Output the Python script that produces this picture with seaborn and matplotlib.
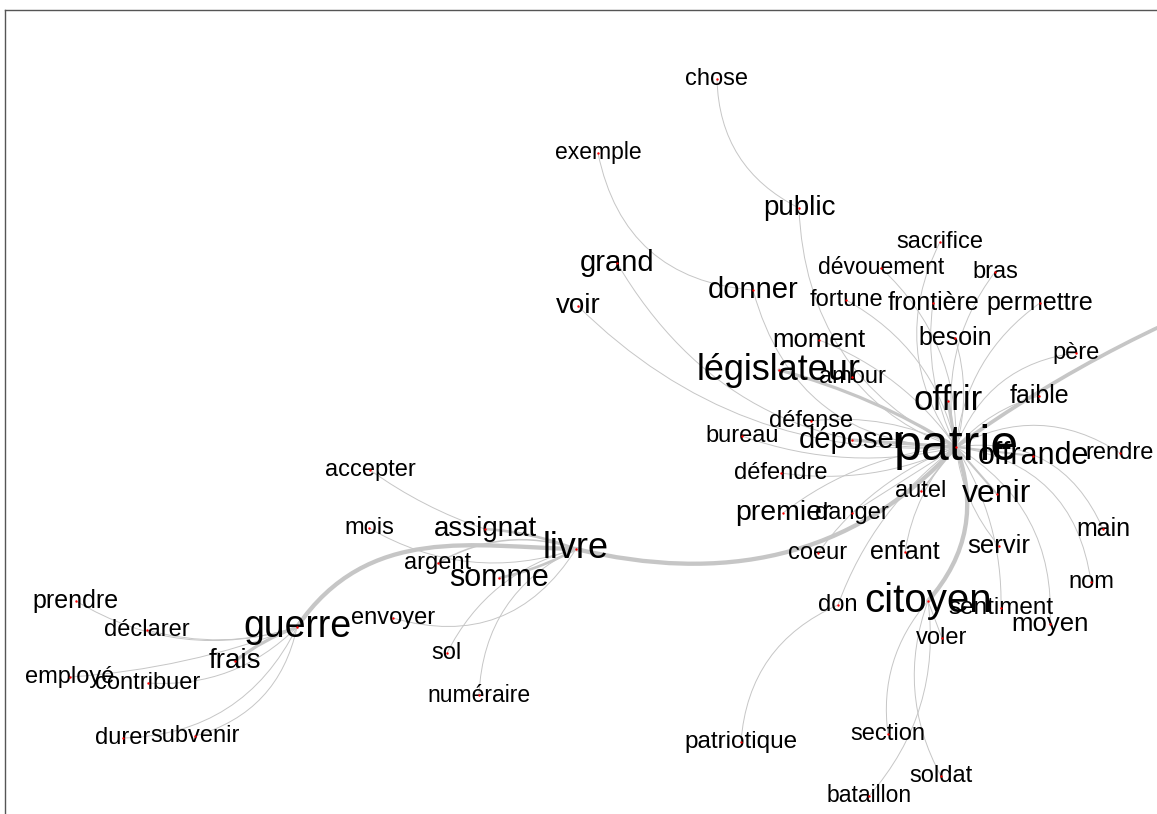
import numpy as np
import pandas as pd
import matplotlib
matplotlib.use("Agg")
import matplotlib.pyplot as plt
from matplotlib.path import Path
from matplotlib.patches import PathPatch
import seaborn as sns

# words of the similarity graph, position on the layout and label size
words = ["patrie", "citoyen", "législateur", "guerre", "livre", "offrir", "venir",
         "offrande", "déposer", "somme", "donner", "grand", "public", "voir", "premier",
         "assignat", "frais", "moment", "moyen", "servir", "sentiment", "patriotique",
         "autel", "chose", "exemple", "sacrifice", "dévouement", "bras", "fortune",
         "frontière", "permettre", "besoin", "père", "amour", "faible", "défense",
         "bureau", "rendre", "défendre", "danger", "main", "coeur", "enfant", "nom",
         "don", "voler", "section", "soldat", "bataillon", "accepter", "mois", "argent",
         "envoyer", "prendre", "déclarer", "sol", "employé", "contribuer", "numéraire",
         "durer", "subvenir", ""]
word_x = [956, 928, 779, 297, 576, 948, 997, 1033, 852, 499, 753, 617, 799, 578, 783,
          485, 235, 819, 1050, 999, 1001, 741, 921, 717, 598, 940, 881, 995, 846,
          933, 1040, 955, 1076, 852, 1039, 811, 742, 1120, 781, 852, 1103, 818, 905,
          1091, 838, 942, 888, 941, 869, 370, 369, 438, 393, 76, 147, 447, 70, 148,
          479, 123, 195, 1300]
word_y = [447, 601, 370, 627, 549, 401, 494, 456, 440, 578, 290, 263, 208, 306, 513,
          529, 661, 340, 624, 546, 608, 742, 491, 79, 153, 242, 268, 272, 300, 303,
          303, 338, 353, 377, 396, 421, 436, 453, 473, 513, 529, 553, 552, 582, 605,
          638, 734, 776, 796, 470, 528, 563, 618, 601, 630, 653, 677, 683, 695, 738,
          736, 270]
word_size = [36, 29, 26, 27, 26, 25, 23, 22, 21, 22, 21, 21, 20, 20, 20.5,
             20, 20, 18.5, 18.5, 18.5, 17.5, 17.5, 17, 17, 16.5, 17, 16.5, 17, 17,
             18, 18, 18, 17, 17, 18, 17, 17, 17, 17, 17, 18, 17, 18,
             17, 17, 17, 17, 17, 16.5, 17, 17, 17, 17, 18, 17, 17, 17, 17,
             16.5, 17, 17, 17]

# co-occurrence edges of the tree: (source, target, weight)
edges_patrie = [("patrie", "livre", 4), ("patrie", "citoyen", 4), ("patrie", "", 3.5),
                ("patrie", "législateur", 3), ("patrie", "déposer", 3),
                ("patrie", "offrir", 3), ("patrie", "venir", 2), ("patrie", "offrande", 2),
                ("patrie", "autel", 1.5), ("patrie", "main", 1), ("patrie", "nom", 1),
                ("patrie", "rendre", 1), ("patrie", "faible", 1), ("patrie", "père", 1),
                ("patrie", "permettre", 1), ("patrie", "bras", 1),
                ("patrie", "sacrifice", 1), ("patrie", "frontière", 1),
                ("patrie", "besoin", 1), ("patrie", "dévouement", 1),
                ("patrie", "fortune", 1), ("patrie", "public", 1), ("patrie", "moment", 1),
                ("patrie", "donner", 1), ("patrie", "grand", 1), ("patrie", "voir", 1),
                ("patrie", "amour", 1), ("patrie", "défense", 1), ("patrie", "bureau", 1),
                ("patrie", "défendre", 1), ("patrie", "premier", 1),
                ("patrie", "danger", 1), ("patrie", "coeur", 1), ("patrie", "enfant", 1),
                ("patrie", "don", 1), ("patrie", "servir", 1), ("patrie", "sentiment", 1),
                ("patrie", "moyen", 1)]
edges_citoyen = [("citoyen", "voler", 1), ("citoyen", "section", 1),
                 ("citoyen", "soldat", 1), ("citoyen", "bataillon", 1),
                 ("don", "patriotique", 1), ("public", "chose", 1),
                 ("donner", "exemple", 1)]
edges_livre = [("livre", "guerre", 4), ("livre", "assignat", 2.5), ("livre", "somme", 2.5),
               ("livre", "argent", 1.5), ("livre", "mois", 1), ("livre", "envoyer", 1),
               ("livre", "sol", 1), ("livre", "numéraire", 1), ("assignat", "accepter", 1)]
edges_guerre = [("guerre", "frais", 3), ("guerre", "prendre", 1), ("guerre", "déclarer", 1),
                ("guerre", "employé", 1), ("guerre", "contribuer", 1),
                ("guerre", "durer", 1), ("guerre", "subvenir", 1)]

# drawing style: bend of each edge, keyed by its target word
# (two cubic control offsets as fraction of edge length, + = clockwise side)
edge_bend = {
    "livre": (-0.21, -0.18), "citoyen": (-0.2, -0.2), "": (-0.05, -0.05),
    "législateur": (0.05, 0.05), "déposer": (0, 0), "offrir": (0, 0),
    "venir": (0, 0), "offrande": (0, 0), "autel": (0, 0),
    "main": (-0.25, -0.25), "nom": (-0.25, -0.25), "rendre": (-0.2, -0.2),
    "faible": (-0.1, -0.1), "père": (-0.2, -0.2), "permettre": (-0.15, -0.15),
    "bras": (-0.15, -0.15), "sacrifice": (-0.2, -0.2), "frontière": (-0.1, -0.1),
    "besoin": (0.1, 0.1), "dévouement": (0.15, 0.15), "fortune": (0.15, 0.15),
    "public": (-0.2, -0.2), "moment": (0.1, 0.1), "donner": (-0.25, -0.25),
    "grand": (-0.2, -0.2), "voir": (-0.15, -0.15), "amour": (-0.1, -0.1),
    "défense": (0.1, 0.1), "bureau": (-0.1, -0.1), "défendre": (-0.1, -0.1),
    "premier": (0.1, 0.1), "danger": (0, 0), "coeur": (0.1, 0.1),
    "enfant": (0.1, 0.1), "don": (0.1, 0.1), "servir": (0.1, 0.1),
    "sentiment": (-0.1, -0.1), "moyen": (-0.2, -0.2),
    "voler": (0, 0), "section": (0.15, 0.15), "soldat": (0.15, 0.15),
    "bataillon": (-0.15, -0.15), "patriotique": (0.2, 0.2), "chose": (-0.2, -0.2),
    "exemple": (-0.25, -0.25),
    "guerre": (0.1, 0.28), "assignat": (0.05, 0.05), "somme": (-0.05, -0.05),
    "argent": (0.15, 0.15), "mois": (-0.15, -0.15), "envoyer": (-0.25, -0.25),
    "sol": (0.15, 0.15), "numéraire": (0.2, 0.2), "accepter": (-0.05, -0.05),
    "frais": (0.05, 0.05), "prendre": (-0.15, -0.15), "déclarer": (-0.1, -0.1),
    "employé": (-0.05, -0.05), "contribuer": (-0.15, -0.15),
    "durer": (-0.2, -0.2), "subvenir": (-0.2, -0.2),
}

nodes = pd.DataFrame({"word": words, "x": word_x, "y": word_y, "size": word_size})
pos = {w: (x, y) for w, x, y in zip(words, word_x, word_y)}
edges = edges_patrie + edges_citoyen + edges_livre + edges_guerre

sns.set_theme(style="white")
plt.rcParams["font.family"] = ["Liberation Sans", "DejaVu Sans"]

fig = plt.figure(figsize=(11.57, 8.14), dpi=100)
ax = fig.add_axes([5 / 1157, 0, 1 - 5 / 1157, 804 / 814])

edge_color = "#c6c6c6"
for src, dst, w in edges:
    b1, b2 = edge_bend[dst]
    p0 = np.array(pos[src], dtype=float)
    p1 = np.array(pos[dst], dtype=float)
    d = p1 - p0
    length = np.hypot(*d)
    n = np.array([-d[1], d[0]]) / length
    c1 = p0 + d / 3 + n * b1 * length
    c2 = p0 + 2 * d / 3 + n * b2 * length
    path = Path([p0, c1, c2, p1], [Path.MOVETO, Path.CURVE4, Path.CURVE4, Path.CURVE4])
    ax.add_patch(PathPatch(path, facecolor="none", edgecolor=edge_color,
                           lw=0.7 + (w - 1) * 0.8, capstyle="round", zorder=1))

sns.scatterplot(data=nodes, x="x", y="y", color="red", s=3, linewidth=0,
                ax=ax, zorder=5, legend=False)

for _, row in nodes.iterrows():
    ax.text(row["x"], row["y"], row["word"], fontsize=row["size"],
            ha="center", va="center", color="black", zorder=4)

ax.set_xlim(5, 1157)
ax.set_ylim(814, 10)
ax.set_xticks([])
ax.set_yticks([])
ax.set_xlabel("")
ax.set_ylabel("")
for side in ["right", "bottom"]:
    ax.spines[side].set_visible(False)
for side in ["left", "top"]:
    ax.spines[side].set_color("#555555")
    ax.spines[side].set_linewidth(1.0)

fig.savefig("out.png", dpi=100)
